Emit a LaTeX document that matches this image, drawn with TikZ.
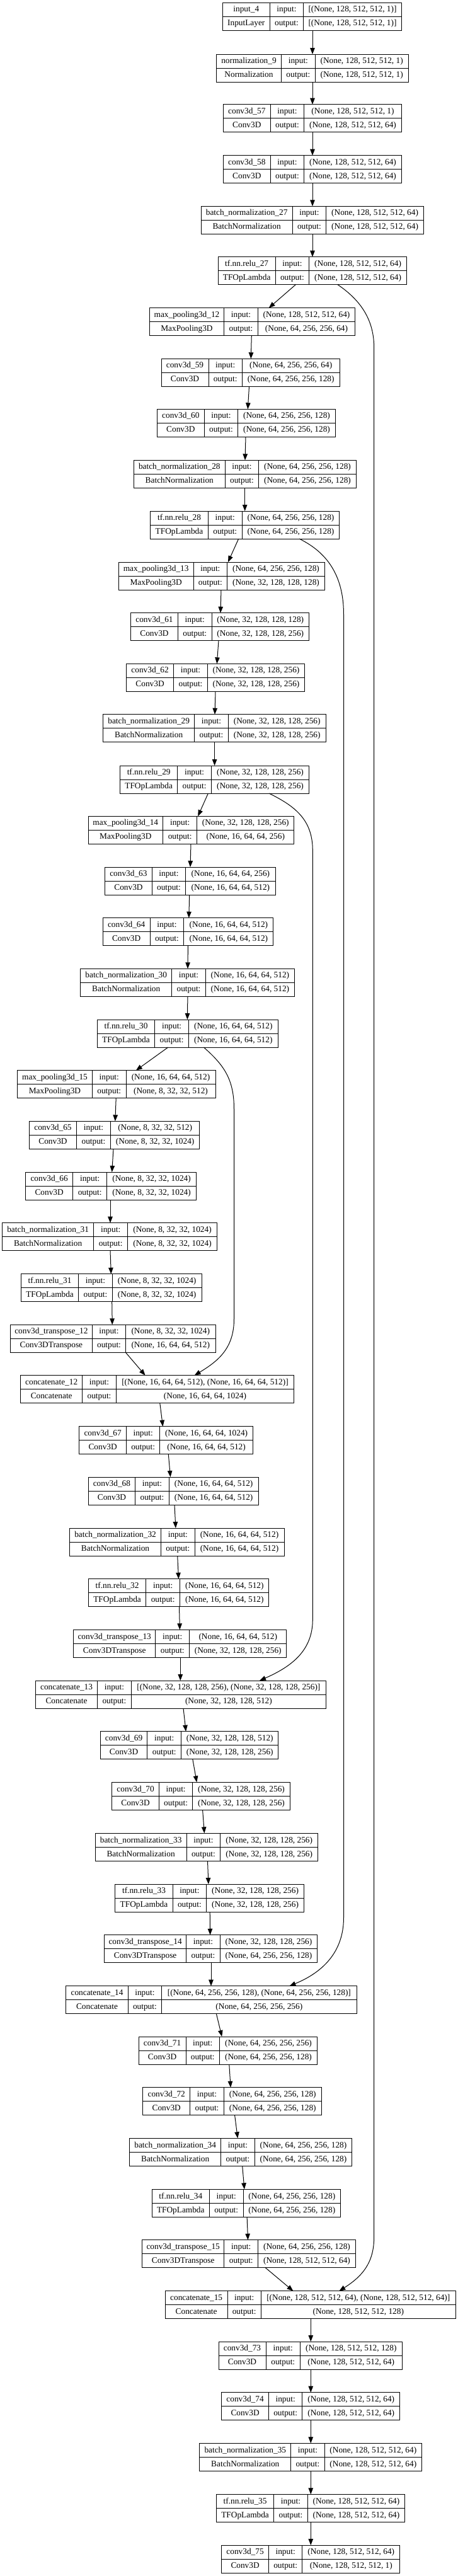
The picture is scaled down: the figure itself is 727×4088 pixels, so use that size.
\documentclass[tikz,border=0pt]{standalone}
\usepackage{fontspec}
\setmainfont{Liberation Serif}
\usetikzlibrary{arrows.meta,fit}
\tikzset{
  lbox/.style={draw=black, line width=0.75pt, inner sep=0pt, outer sep=0pt},
  cell/.style={inner sep=0pt, font=\fontsize{10}{12}\selectfont, text height=7.5pt, text depth=2pt},
  conn/.style={draw=black, line width=0.75pt, -{Triangle[length=7.5pt,width=5.6pt]}},
  sepline/.style={draw=black, line width=0.75pt}
}
\def\Lgeo#1/#2/#3/#4/#5\relax{\def\Lxl{#1}\def\Lda{#2}\def\Ldb{#3}\def\Lxr{#4}\def\Lyt{#5}}
\newcommand\lyr[6]{%
  \Lgeo#2\relax
  \node[lbox, fit={(\Lxl,\Lyt) (\Lxr,\Lyt+44)}] (#1) {};
  \draw[sepline] (\Lxl,\Lyt+22) -- (\Lxr,\Lyt+22);
  \draw[sepline] (\Lda,\Lyt) -- (\Lda,\Lyt+44);
  \draw[sepline] (\Ldb,\Lyt) -- (\Ldb,\Lyt+44);
  \node[cell] at ({(\Lxl+\Lda)/2},\Lyt+11) {#3};
  \node[cell] at ({(\Lxl+\Lda)/2},\Lyt+33) {#4};
  \node[cell] at ({(\Lda+\Ldb)/2},\Lyt+11) {input:};
  \node[cell] at ({(\Lda+\Ldb)/2},\Lyt+33) {output:};
  \node[cell] at ({(\Ldb+\Lxr)/2},\Lyt+11) {#5};
  \node[cell] at ({(\Ldb+\Lxr)/2},\Lyt+33) {#6};
}
\newcommand\conn[4]{\draw[conn] (#1.south -| #2,0) -- (#3.north -| #4,0);}
\begin{document}
\begin{tikzpicture}[x=0.75pt,y=-0.75pt]
\fill[white] (0,0) rectangle (727,4088);
\useasboundingbox (0,0) rectangle (727,4088);

\lyr{input4}{353.3/428.3/481.7/637.3/4.3}{input\_4}{InputLayer}{[(None, 128, 512, 512, 1)]}{[(None, 128, 512, 512, 1)]}
\lyr{norm9}{343.3/446.7/500/648.3/86}{normalization\_9}{Normalization}{(None, 128, 512, 512, 1)}{(None, 128, 512, 512, 1)}
\lyr{conv57}{354.3/429.3/482.7/637.3/165.7}{conv3d\_57}{Conv3D}{(None, 128, 512, 512, 1)}{(None, 128, 512, 512, 64)}
\lyr{conv58}{354.3/429.3/482.7/637.3/246.7}{conv3d\_58}{Conv3D}{(None, 128, 512, 512, 64)}{(None, 128, 512, 512, 64)}
\lyr{bn27}{319/464.3/517.5/672.7/327.3}{batch\_normalization\_27}{BatchNormalization}{(None, 128, 512, 512, 64)}{(None, 128, 512, 512, 64)}
\lyr{relu27}{346/437.3/490.5/645.7/407.7}{tf.nn.relu\_27}{TFOpLambda}{(None, 128, 512, 512, 64)}{(None, 128, 512, 512, 64)}
\lyr{mp12}{237.3/355.7/409.3/563.7/488.7}{max\_pooling3d\_12}{MaxPooling3D}{(None, 128, 512, 512, 64)}{(None, 64, 256, 256, 64)}
\lyr{conv59}{256/331/384.3/539/569.3}{conv3d\_59}{Conv3D}{(None, 64, 256, 256, 64)}{(None, 64, 256, 256, 128)}
\lyr{conv60}{249.3/324.3/377.7/532.3/649.3}{conv3d\_60}{Conv3D}{(None, 64, 256, 256, 128)}{(None, 64, 256, 256, 128)}
\lyr{bn28}{212.3/357.3/410.7/565.3/730.3}{batch\_normalization\_28}{BatchNormalization}{(None, 64, 256, 256, 128)}{(None, 64, 256, 256, 128)}
\lyr{relu28}{238.7/330.3/384.3/538.7/811}{tf.nn.relu\_28}{TFOpLambda}{(None, 64, 256, 256, 128)}{(None, 64, 256, 256, 128)}
\lyr{mp13}{188.3/307/360.7/515.3/892}{max\_pooling3d\_13}{MaxPooling3D}{(None, 64, 256, 256, 128)}{(None, 32, 128, 128, 128)}
\lyr{conv61}{207.4/282.6/336/490.5/972.7}{conv3d\_61}{Conv3D}{(None, 32, 128, 128, 128)}{(None, 32, 128, 128, 256)}
\lyr{conv62}{200.5/275.6/329.5/483.5/1053.3}{conv3d\_62}{Conv3D}{(None, 32, 128, 128, 256)}{(None, 32, 128, 128, 256)}
\lyr{bn29}{163.8/308.6/362.4/517/1133.7}{batch\_normalization\_29}{BatchNormalization}{(None, 32, 128, 128, 256)}{(None, 32, 128, 128, 256)}
\lyr{relu29}{190.7/281.7/335.5/490.5/1215}{tf.nn.relu\_29}{TFOpLambda}{(None, 32, 128, 128, 256)}{(None, 32, 128, 128, 256)}
\lyr{mp14}{140.1/258.5/312.8/466.8/1295.3}{max\_pooling3d\_14}{MaxPooling3D}{(None, 32, 128, 128, 256)}{(None, 16, 64, 64, 256)}
\lyr{conv63}{166.6/241.3/294.7/437.1/1376}{conv3d\_63}{Conv3D}{(None, 16, 64, 64, 256)}{(None, 16, 64, 64, 512)}
\lyr{conv64}{163.3/238/291.9/433.9/1456.7}{conv3d\_64}{Conv3D}{(None, 16, 64, 64, 512)}{(None, 16, 64, 64, 512)}
\lyr{bn30}{127.6/272.9/326.2/467.7/1537.3}{batch\_normalization\_30}{BatchNormalization}{(None, 16, 64, 64, 512)}{(None, 16, 64, 64, 512)}
\lyr{relu30}{154.1/245.9/299.3/441.3/1618}{tf.nn.relu\_30}{TFOpLambda}{(None, 16, 64, 64, 512)}{(None, 16, 64, 64, 512)}
\lyr{mp15}{27.4/146.6/200/342/1698.7}{max\_pooling3d\_15}{MaxPooling3D}{(None, 16, 64, 64, 512)}{(None, 8, 32, 32, 512)}
\lyr{conv65}{46.4/121.6/175.4/316.9/1779.3}{conv3d\_65}{Conv3D}{(None, 8, 32, 32, 512)}{(None, 8, 32, 32, 1024)}
\lyr{conv66}{40.8/115.5/169.8/311.4/1860}{conv3d\_66}{Conv3D}{(None, 8, 32, 32, 1024)}{(None, 8, 32, 32, 1024)}
\lyr{bn31}{3.7/148.5/202.8/344.3/1940.7}{batch\_normalization\_31}{BatchNormalization}{(None, 8, 32, 32, 1024)}{(None, 8, 32, 32, 1024)}
\lyr{relu31}{33.4/124.8/178.2/320.2/2021.7}{tf.nn.relu\_31}{TFOpLambda}{(None, 8, 32, 32, 1024)}{(None, 8, 32, 32, 1024)}
\lyr{ct12}{16.2/146.6/199.5/342/2102.3}{conv3d\_transpose\_12}{Conv3DTranspose}{(None, 8, 32, 32, 1024)}{(None, 16, 64, 64, 512)}
\lyr{concat12}{32.5/130.9/184.2/466.8/2182.7}{concatenate\_12}{Concatenate}{[(None, 16, 64, 64, 512), (None, 16, 64, 64, 512)]}{(None, 16, 64, 64, 1024)}
\lyr{conv67}{125.8/200.5/253.8/401.4/2263.7}{conv3d\_67}{Conv3D}{(None, 16, 64, 64, 1024)}{(None, 16, 64, 64, 512)}
\lyr{conv68}{140.1/214.8/268.2/410.2/2344}{conv3d\_68}{Conv3D}{(None, 16, 64, 64, 512)}{(None, 16, 64, 64, 512)}
\lyr{bn32}{110.4/255.7/309/451/2425}{batch\_normalization\_32}{BatchNormalization}{(None, 16, 64, 64, 512)}{(None, 16, 64, 64, 512)}
\lyr{relu32}{140.6/231.6/285.8/426.9/2505.7}{tf.nn.relu\_32}{TFOpLambda}{(None, 16, 64, 64, 512)}{(None, 16, 64, 64, 512)}
\lyr{ct13}{116.5/246.9/300.7/454.8/2586.3}{conv3d\_transpose\_13}{Conv3DTranspose}{(None, 16, 64, 64, 512)}{(None, 32, 128, 128, 256)}
\lyr{concat13}{56.6/154.5/208.4/517.4/2667}{concatenate\_13}{Concatenate}{[(None, 32, 128, 128, 256), (None, 32, 128, 128, 256)]}{(None, 32, 128, 128, 512)}
\lyr{conv69}{159.2/233.9/287.7/441.8/2747.7}{conv3d\_69}{Conv3D}{(None, 32, 128, 128, 512)}{(None, 32, 128, 128, 256)}
\lyr{conv70}{177.7/252.4/305.8/460.3/2828.3}{conv3d\_70}{Conv3D}{(None, 32, 128, 128, 256)}{(None, 32, 128, 128, 256)}
\lyr{bn33}{151.3/296/349.9/504.4/2909.3}{batch\_normalization\_33}{BatchNormalization}{(None, 32, 128, 128, 256)}{(None, 32, 128, 128, 256)}
\lyr{relu33}{182.8/274.2/327.6/482.6/2990}{tf.nn.relu\_33}{TFOpLambda}{(None, 32, 128, 128, 256)}{(None, 32, 128, 128, 256)}
\lyr{ct14}{165.7/295.6/349.4/503.5/3070.7}{conv3d\_transpose\_14}{Conv3DTranspose}{(None, 32, 128, 128, 256)}{(None, 64, 256, 256, 128)}
\lyr{concat14}{104.9/203.2/256.6/566.1/3151.7}{concatenate\_14}{Concatenate}{[(None, 64, 256, 256, 128), (None, 64, 256, 256, 128)]}{(None, 64, 256, 256, 256)}
\lyr{conv71}{220/295.1/348.5/503.5/3232}{conv3d\_71}{Conv3D}{(None, 64, 256, 256, 256)}{(None, 64, 256, 256, 128)}
\lyr{conv72}{226.9/301.6/355.5/510/3312.7}{conv3d\_72}{Conv3D}{(None, 64, 256, 256, 128)}{(None, 64, 256, 256, 128)}
\lyr{bn34}{205.6/350.8/404.2/558.7/3393.3}{batch\_normalization\_34}{BatchNormalization}{(None, 64, 256, 256, 128)}{(None, 64, 256, 256, 128)}
\lyr{relu34}{241.3/332.3/386.1/540.6/3474.3}{tf.nn.relu\_34}{TFOpLambda}{(None, 64, 256, 256, 128)}{(None, 64, 256, 256, 128)}
\lyr{ct15}{225.5/355.9/409.7/564.3/3554.7}{conv3d\_transpose\_15}{Conv3DTranspose}{(None, 64, 256, 256, 128)}{(None, 128, 512, 512, 64)}
\lyr{concat15}{262.3/361/414.3/723.3/3635.7}{concatenate\_15}{Concatenate}{[(None, 128, 512, 512, 64), (None, 128, 512, 512, 64)]}{(None, 128, 512, 512, 128)}
\lyr{conv73}{347/422/476.6/638/3716}{conv3d\_73}{Conv3D}{(None, 128, 512, 512, 128)}{(None, 128, 512, 512, 64)}
\lyr{conv74}{351.7/426.5/479.8/634.8/3796.7}{conv3d\_74}{Conv3D}{(None, 128, 512, 512, 64)}{(None, 128, 512, 512, 64)}
\lyr{bn35}{316.9/461.7/515.1/669.6/3877.3}{batch\_normalization\_35}{BatchNormalization}{(None, 128, 512, 512, 64)}{(None, 128, 512, 512, 64)}
\lyr{relu35}{343.4/434.8/488.2/642.7/3958.3}{tf.nn.relu\_35}{TFOpLambda}{(None, 128, 512, 512, 64)}{(None, 128, 512, 512, 64)}
\lyr{conv75}{351.7/426.5/479.8/634.8/4039}{conv3d\_75}{Conv3D}{(None, 128, 512, 512, 64)}{(None, 128, 512, 512, 1)}

% straight connectors
\conn{input4}{496}{norm9}{496}
\conn{norm9}{496}{conv57}{496}
\conn{conv57}{496}{conv58}{496}
\conn{conv58}{496}{bn27}{496}
\conn{bn27}{496}{relu27}{496}
\conn{relu27}{469.3}{mp12}{426.7}
\conn{mp12}{399.3}{conv59}{398.3}
\conn{conv59}{395.5}{conv60}{393.3}
\conn{conv60}{390}{bn28}{389}
\conn{bn28}{388.7}{relu28}{388.7}
\conn{relu28}{378.7}{mp13}{362}
\conn{mp13}{351}{conv61}{350}
\conn{conv61}{347}{conv62}{344.3}
\conn{conv62}{342}{bn29}{341}
\conn{bn29}{340.6}{relu29}{340.6}
\conn{relu29}{330.4}{mp14}{314.2}
\conn{mp14}{303}{conv63}{302}
\conn{conv63}{300.7}{conv64}{299.8}
\conn{conv64}{298.4}{bn30}{298}
\conn{bn30}{297.9}{relu30}{297.4}
\conn{relu30}{266.8}{mp15}{215.8}
\conn{mp15}{184.2}{conv65}{182.8}
\conn{conv65}{180}{conv66}{177.7}
\conn{conv66}{175}{bn31}{175}
\conn{bn31}{175}{relu31}{176.3}
\conn{relu31}{177.7}{ct12}{178.2}
\conn{ct12}{199.5}{concat12}{230.6}
\conn{concat12}{253.8}{conv67}{258.5}
\conn{conv67}{267.3}{conv68}{270.5}
\conn{conv68}{277}{bn32}{278.9}
\conn{bn32}{281.7}{relu32}{283.5}
\conn{relu32}{284.5}{ct13}{285.4}
\conn{ct13}{286.3}{concat13}{286.3}
\conn{concat13}{291}{conv69}{295.1}
\conn{conv69}{305.8}{conv70}{312.3}
\conn{conv70}{321.6}{bn33}{324.4}
\conn{bn33}{329.5}{relu33}{330.9}
\conn{relu33}{333.2}{ct14}{333.6}
\conn{ct14}{335}{concat14}{335}
\conn{concat14}{343.4}{conv71}{352.2}
\conn{conv71}{363.8}{conv72}{366.1}
\conn{conv72}{372.6}{bn34}{377.3}
\conn{bn34}{384.7}{relu34}{387.9}
\conn{relu34}{392.1}{ct15}{393.5}
\conn{ct15}{421.3}{concat15}{465.4}
\conn{concat15}{493.3}{conv73}{493.3}
\conn{conv73}{493.3}{conv74}{493.3}
\conn{conv74}{493.3}{bn35}{493.3}
\conn{bn35}{493.3}{relu35}{493.3}
\conn{relu35}{493.3}{conv75}{493.3}

% skip connectors
\draw[conn] (relu27.south -| 536,0) .. controls (575,478) and (593.7,510) .. (593.7,552)
  -- (593.7,3550) .. controls (593.7,3592) and (574,3613) .. (concat15.north -| 538.3,0);
\draw[conn] (relu28.south -| 475,0) .. controls (518,876) and (545.5,912) .. (545.5,975)
  -- (545.5,3043) .. controls (545.5,3098) and (512,3130) .. (concat14.north -| 459.4,0);
\draw[conn] (relu29.south -| 427,0) .. controls (470,1280) and (496.3,1302) .. (496.3,1350)
  -- (496.3,2570) .. controls (496.3,2620) and (462,2645) .. (concat13.north -| 412,0);
\draw[conn] (relu30.south -| 323.4,0) .. controls (355,1690) and (371.5,1712) .. (371.5,1760)
  -- (371.5,2093) .. controls (371.5,2140) and (346,2160) .. (concat12.north -| 308.6,0);
\end{tikzpicture}
\end{document}
